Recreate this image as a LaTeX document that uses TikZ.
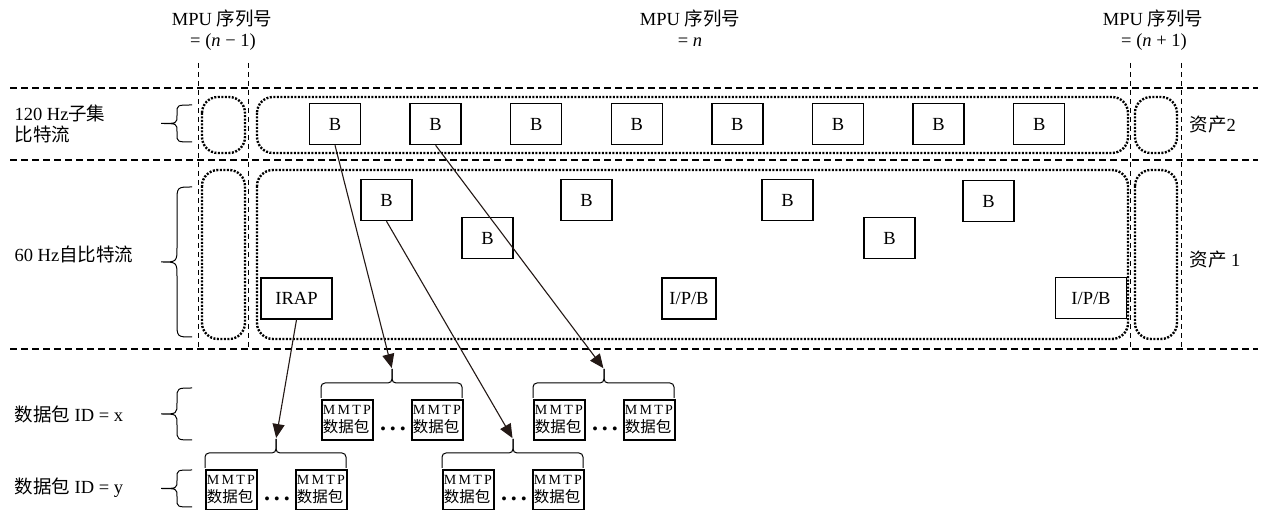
\documentclass[tikz,border=0pt]{standalone}
\usepackage{fontspec}
\setmainfont{Liberation Serif}
\newfontfamily\cjk{Noto Sans CJK SC}
\newfontfamily\spacedfont[LetterSpace=16]{Liberation Serif}
\usetikzlibrary{arrows.meta, positioning}
\definecolor{arrowdark}{HTML}{231815}

\begin{document}
\begin{tikzpicture}[
    x=1pt, y=-1pt,
    font=\fontsize{18.5}{21}\selectfont,
    frame/.style={draw, line width=1.5pt, minimum width=51pt, minimum height=41pt, inner sep=0pt},
    pkt/.style={draw, line width=1.8pt, anchor=north west, text width=49pt, minimum height=40pt,
      inner sep=1pt, align=left, font=\fontsize{14}{18}\selectfont},
    sep/.style={dash pattern=on 7pt off 4pt, line width=2pt},
    mpu/.style={dash pattern=on 5pt off 4pt, line width=1pt},
    grp/.style={rounded corners=16pt, dash pattern=on 2pt off 1.5pt, line width=2.4pt},
    brk/.style={line width=1pt, rounded corners=4pt},
    arr/.style={-{Triangle[length=14pt,width=12pt]}, line width=1.1pt, color=arrowdark, shorten >=1pt}
  ]
    \useasboundingbox (0,0) rectangle (1262,510);

    % MPU headings
    \node (mpuA) at (222,18) {MPU {\cjk 序列号}};
    \node (eqA) at (223,42) {= (\textit{n} − 1)};
    \node (mpuB) at (690,18) {MPU {\cjk 序列号}};
    \node (eqB) at (690,42) {= \textit{n}};
    \node (mpuC) at (1153,18) {MPU {\cjk 序列号}};
    \node (eqC) at (1154,42) {= (\textit{n} + 1)};

    % separators
    \foreach \y in {88,160,349}
      \draw[sep] (10,\y) -- (1258,\y);
    \foreach \x in {198,248,1130,1181}
      \draw[mpu] (\x,63) -- (\x,349);

    % groups of pictures
    \draw[grp] (202,97) rectangle (245,153);
    \draw[grp] (257,97) rectangle (1128,153);
    \draw[grp] (1135,97) rectangle (1177,153);
    \draw[grp] (202,170) rectangle (245,339);
    \draw[grp] (257,170) rectangle (1128,339);
    \draw[grp] (1135,170) rectangle (1177,339);

    % row labels and braces
    \node[anchor=west, align=left] (lbl120) at (11,123.5) {120 Hz{\cjk 子集}\\{\cjk 比特流}};
    \node[anchor=west] (lbl60) at (11,254) {60 Hz{\cjk 自比特流}};
    \node[anchor=west] (lblx) at (11,414) {{\cjk 数据包} ID = x};
    \node[anchor=west] (lbly) at (11,488) {{\cjk 数据包} ID = y};
    \node[anchor=west] (asset2) at (1186,125) {{\cjk 资产}2};
    \node[anchor=west] (asset1) at (1186,260) {{\cjk 资产} 1};
    \foreach \yt/\yb/\r in {105/142/8, 187/337/15, 388/440/11, 470/507/8} {
      \pgfmathsetmacro\ym{(\yt+\yb)/2}
      \draw[line width=1pt] (192,\yt) .. controls (177,\yt) .. (177,{\yt+\r})
        -- (177,{\ym-\r}) .. controls (177,\ym) .. (161,\ym)
        .. controls (177,\ym) .. (177,{\ym+\r})
        -- (177,{\yb-\r}) .. controls (177,\yb) .. (192,\yb);
    }

    % 120 Hz pictures
    \foreach \i in {1,...,8}
      \node[frame] (top\i) at ({335+100.6*(\i-1)},124) {B};

    % 60 Hz pictures
    \foreach \n/\x/\y in {mid1/386.5/200, mid2/487.5/238, mid3/586.5/200,
                          mid4/787.5/200, mid5/889.5/238, mid6/988.5/201}
      \node[frame] (\n) at (\x,\y) {B};
    \node[frame, minimum width=71pt] (irap) at (296.5,298.5) {IRAP};
    \node[frame, minimum width=54pt] (ipb1) at (689,298.5) {I/P/B};
    \node[frame, minimum width=71pt] (ipb2) at (1091,298) {I/P/B};

    % MMTP packets
    \foreach \g/\L/\yt in {gx1/321/383, gx2/533/383, gy1/205/453, gy2/442/453} {
      \draw[brk] (\L,{\yt+15}) -- (\L,\yt) -- ({\L+71},\yt) -- ({\L+71},{\yt-14});
      \draw[brk] ({\L+141},{\yt+15}) -- ({\L+141},\yt) -- ({\L+71},\yt) -- ({\L+71},{\yt-14});
      \coordinate (\g-tip) at ({\L+71},{\yt-14});
      \node[pkt] (\g-a) at (\L,{\yt+16}) {\spacedfont MMTP\\{\cjk\fontsize{15.5}{18}\selectfont 数据包}};
      \node[pkt] (\g-b) at ({\L+90},{\yt+16}) {\spacedfont MMTP\\{\cjk\fontsize{15.5}{18}\selectfont 数据包}};
      \node[font=\fontsize{24}{24}\selectfont\bfseries] (\g-dots) at ({\L+72},{\yt+46}) {.\,.\,.};
    }

    \draw[arr] (top1.south) -- (gx1-tip);
    \draw[arr] (top2.south) -- (gx2-tip);
    \draw[arr] (mid1.south) -- (gy2-tip);
    \draw[arr] (irap.south) -- (gy1-tip);
  \end{tikzpicture}
\end{document}
